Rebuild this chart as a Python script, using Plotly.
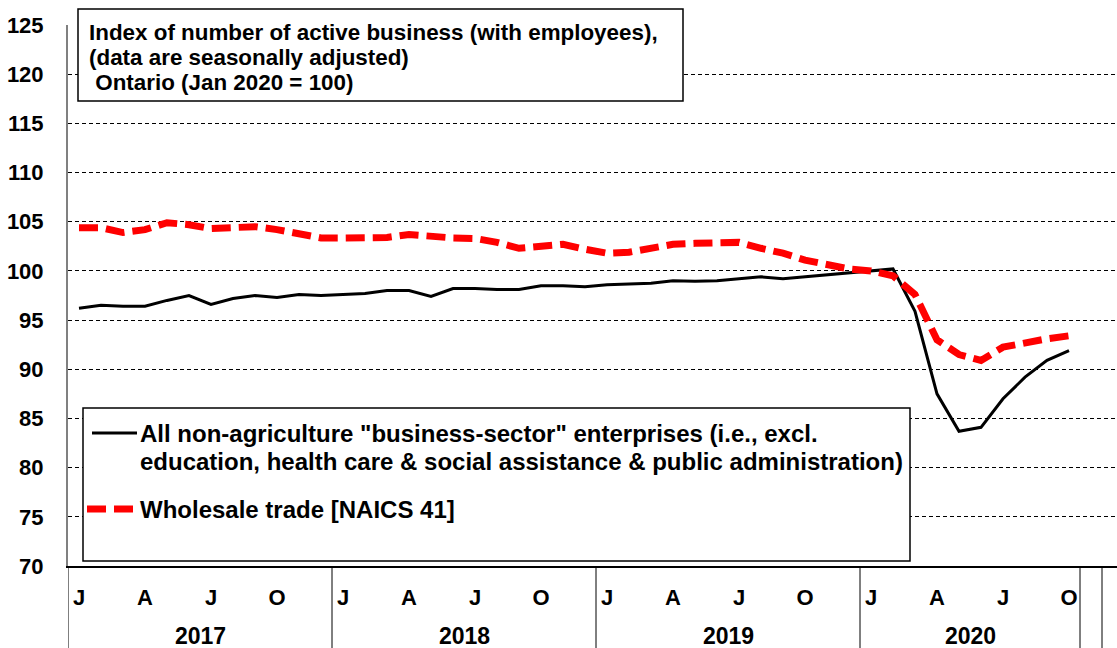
import plotly.graph_objects as go

# ---- data ----
months = list(range(46))  # Jan 2017 .. Oct 2020
month_tick_pos = [0, 3, 6, 9, 12, 15, 18, 21, 24, 27, 30, 33, 36, 39, 42, 45]
month_tick_text = ["J", "A", "J", "O"] * 4
years = ["2017", "2018", "2019", "2020"]
year_centers = [5.5, 17.5, 29.5, 40.5]
year_separators = [-0.5, 11.5, 23.5, 35.5, 45.5, 46.5]

all_business = [
    96.2, 96.5, 96.4, 96.4, 97.0, 97.5, 96.6, 97.2, 97.5, 97.3, 97.6, 97.5,
    97.6, 97.7, 98.0, 98.0, 97.4, 98.2, 98.2, 98.1, 98.1, 98.5, 98.5, 98.4,
    98.6, 98.65, 98.75, 99.0, 98.95, 99.0, 99.2, 99.4, 99.2, 99.4, 99.6, 99.8,
    100.0, 100.2, 95.9, 87.5, 83.7, 84.1, 87.0, 89.2, 90.9, 91.9,
]
wholesale = [
    104.4, 104.4, 103.9, 104.2, 104.9, 104.7, 104.3, 104.4, 104.5, 104.2, 103.8, 103.35,
    103.35, 103.35, 103.4, 103.7, 103.5, 103.35, 103.3, 102.9, 102.3, 102.5, 102.7, 102.2,
    101.8, 101.9, 102.3, 102.7, 102.8, 102.8, 102.9, 102.3, 101.8, 101.1, 100.6, 100.2,
    100.0, 99.5, 97.6, 93.0, 91.5, 90.9, 92.25, 92.7, 93.1, 93.4,
]

title_lines = ["Index of number of active business (with employees),",
               "(data are seasonally adjusted)",
               "\u00a0Ontario (Jan 2020 = 100)"]
legend_1a = 'All non-agriculture "business-sector" enterprises (i.e., excl.'
legend_1b = "education, health care & social assistance & public administration)"
legend_2 = "Wholesale trade [NAICS 41]"

# ---- geometry helpers (pixel -> paper) ----
W, H = 1117, 648
L, R, T, B = 68, 0, 25, 82
PW, PH = W - L - R, H - T - B


def px(x):
    return (x - L) / PW


def py(y):
    return (H - B - y) / PH


FONT = "Arial, Liberation Sans, sans-serif"


def bold(size):
    return dict(family=FONT, size=size, color="black", weight="bold")


fig = go.Figure()
fig.add_trace(go.Scatter(x=months, y=all_business, mode="lines",
                         line=dict(color="black", width=3), showlegend=False,
                         name=legend_1a))
fig.add_trace(go.Scatter(x=months, y=wholesale, mode="lines",
                         line=dict(color="#ff0000", width=7, dash="19px,8px"),
                         showlegend=False, name=legend_2))

shapes = []
for s in year_separators:
    shapes.append(dict(type="line", xref="x", yref="paper", x0=s, x1=s,
                       y0=0, y1=py(H + 2), line=dict(color="black", width=1)))
shapes.append(dict(type="rect", xref="paper", yref="paper",
                   x0=px(78), x1=px(683), y0=py(101), y1=py(9),
                   line=dict(color="black", width=1.5), fillcolor="white", layer="above"))
shapes.append(dict(type="rect", xref="paper", yref="paper",
                   x0=px(83), x1=px(910), y0=py(561), y1=py(408),
                   line=dict(color="black", width=1.5), fillcolor="white", layer="above"))
shapes.append(dict(type="line", xref="paper", yref="paper",
                   x0=px(92), x1=px(137), y0=py(433), y1=py(433),
                   line=dict(color="black", width=3), layer="above"))
shapes.append(dict(type="line", xref="paper", yref="paper",
                   x0=px(87), x1=px(140), y0=py(509), y1=py(509),
                   line=dict(color="#ff0000", width=7, dash="19px,8px"), layer="above"))

annotations = []
for txt, yc in zip(title_lines, [33, 57.5, 82]):
    annotations.append(dict(xref="paper", yref="paper", x=px(87), y=py(yc),
                            xanchor="left", yanchor="middle", align="left",
                            text=txt, showarrow=False, font=bold(22.4)))
for txt, yc in [(legend_1a, 433), (legend_1b, 461), (legend_2, 509)]:
    annotations.append(dict(xref="paper", yref="paper", x=px(138), y=py(yc),
                            xanchor="left", yanchor="middle", align="left",
                            text=txt, showarrow=False, font=bold(24)))
for yr, c in zip(years, year_centers):
    annotations.append(dict(xref="x", yref="paper", x=c, y=py(636),
                            xanchor="center", yanchor="middle",
                            text=yr, showarrow=False, font=bold(23)))

fig.update_layout(
    width=W, height=H,
    margin=dict(l=L, r=R, t=T, b=B, pad=0),
    paper_bgcolor="white", plot_bgcolor="white",
    shapes=shapes, annotations=annotations,
    xaxis=dict(range=[-0.5, (W - L) / 22 - 0.5], tickvals=month_tick_pos,
               ticktext=month_tick_text, tickfont=bold(22), showgrid=False,
               zeroline=False, showline=True, linecolor="black", linewidth=1.5,
               ticks="", ticklabelstandoff=11),
    yaxis=dict(range=[70, 125], tickvals=list(range(70, 126, 5)), tickfont=bold(22),
               showgrid=True, gridcolor="black", gridwidth=1, griddash="4px,3px",
               zeroline=False, showline=True, linecolor="#808080", linewidth=2,
               ticks="", ticklabelstandoff=18),
)

fig.write_html("out.html", config={"displayModeBar": False},
               post_script="document.body.style.margin='0';document.body.style.overflow='hidden';")
